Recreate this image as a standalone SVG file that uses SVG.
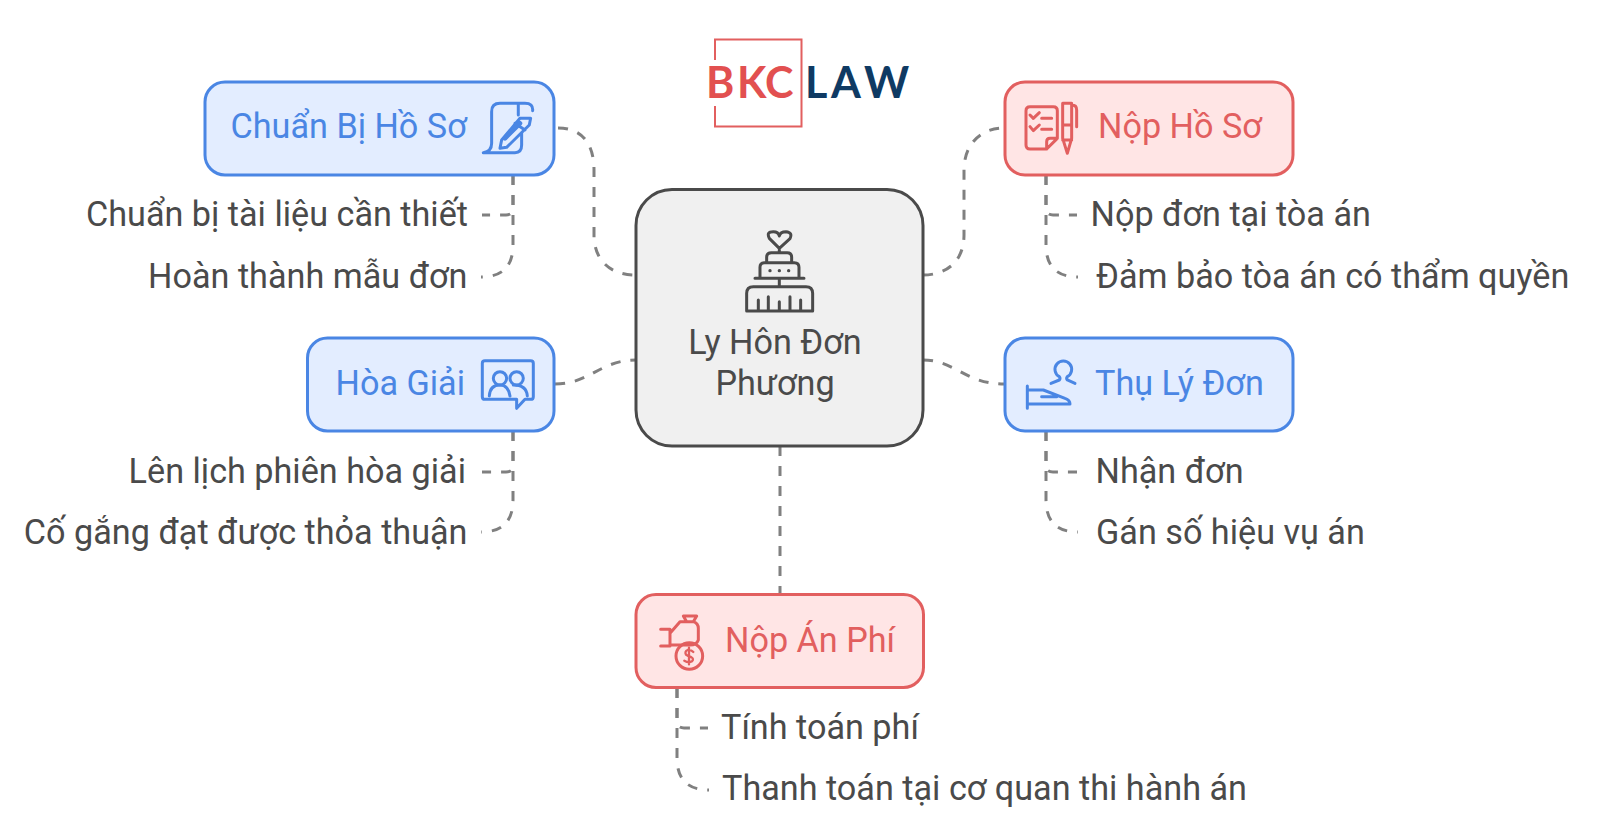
<svg xmlns="http://www.w3.org/2000/svg" width="1600" height="831" viewBox="0 0 1600 831">
<style>
text{font-family:Roboto,"Noto Sans",sans-serif;font-size:34.200px}
.b{fill:#e3edff;stroke:#4a86e4;stroke-width:3}
.r{fill:#ffe5e5;stroke:#e25f5f;stroke-width:3}
.c{fill:#f0f0f0;stroke:#4a4a4a;stroke-width:3}
.tb{fill:#4a86e4}.tr{fill:#e25f5f}.td{fill:#4a4a4a}
.e{text-anchor:end}.m{text-anchor:middle}
.con{fill:none;stroke:#808080;stroke-width:3;stroke-dasharray:10 10}
.i{fill:none;stroke-width:9;stroke-linecap:round;stroke-linejoin:round}
.ib{stroke:#4a86e4}.ir{stroke:#e25f5f}.id{stroke:#4a4a4a}
.lg{font-family:Lato,sans-serif;font-size:43px;font-weight:700}
</style>
<g id="logo">
<path d="M715 60V39.500H801.500V126.500H715V106" fill="none" stroke="#e25f5f" stroke-width="2"/>
<text class="lg" x="706 737 765" y="98" fill="#e25050">BKC</text>
<text class="lg" x="805 831 864" y="98" fill="#0f3a63">LAW</text>
</g>
<g id="connectors" class="con">
<path d="M558 128C583 128 594 145 594 170V235C594 260 610 275 635 275"/>
<path d="M923 275C948 275 964 260 964 235V170C964 145 980 128 1004 128"/>
<path d="M555 384C590 384 600 360 636 360"/>
<path d="M923 360C955 360 965 384 1004 384"/>
<path d="M780 446V594"/>
<path d="M513 175V208Q513 215 506 215H482"/>
<path d="M513 175V245Q513 277 481 277"/>
<path d="M513 431V465Q513 472 506 472H482"/>
<path d="M513 431V500Q513 532 481 532"/>
<path d="M1046 175V208Q1046 215 1053 215H1077"/>
<path d="M1046 175V245Q1046 277 1078 277"/>
<path d="M1046 431V465Q1046 472 1053 472H1077"/>
<path d="M1046 431V500Q1046 532 1078 532"/>
<path d="M677 688V721Q677 728 684 728H708"/>
<path d="M677 688V758Q677 790 709 790"/>
</g>
<g id="center">
<rect class="c" x="636" y="189.500" width="287" height="256.500" rx="36"/>
<g class="i id" transform="translate(630 180) scale(.3333)">
<path d="M448 205L418 175Q408 155 430 155Q445 155 448 168Q451 155 468 155Q489 157 480 176ZM448 205V218M410 248V232Q410 218 424 218H472Q485 218 485 232V248M390 295V262Q390 248 404 248H493Q507 248 507 262V295M375 295H522M448 295V320M350 393V340Q350 320 370 320H528Q548 320 548 340V393ZM385 393V360M415 393V350M448 393V365M480 393V350M512 393V360"/>
<path d="M420 272h.1M448 272h.1M476 272h.1" stroke-width="10"/>
</g>
<text class="td m" x="775" y="354">Ly Hôn Đơn</text>
<text class="td m" x="775" y="395">Phương</text>
</g>
<g id="chuan-bi">
<rect class="b" x="205" y="82" width="349" height="93" rx="20"/>
<text class="tb" x="230.500" y="138">Chuẩn Bị Hồ Sơ</text>
<g class="i ib" transform="translate(190 70) scale(.3333)">
<path d="M880 248H975Q995 248 995 225V190M880 248Q905 245 905 220V125Q905 100 930 100H1005Q1030 100 1028 122M985 100V135"/>
<path d="M990 145L1022 145 1018 165 950 232 930 235 935 210ZM975 160L1005 180"/>
<path d="M945 205L990 160" stroke-width="14"/>
</g>
</g>
<g id="nop-ho-so">
<rect class="r" x="1005" y="82" width="288" height="93" rx="20"/>
<text class="tr" x="1098" y="138">Nộp Hồ Sơ</text>
<g class="i ir" transform="translate(1000 70) scale(.3333)">
<path d="M90 110H160Q172 110 172 122V205L140 237H90Q78 237 78 225V122Q78 110 90 110ZM172 205H150Q140 205 140 215V237M90 135L100 145 118 128M125 145H155M90 170L100 182 118 165M125 178H155"/>
<path d="M188 100H215V205L202 250 188 205ZM188 165H215M188 210H215M215 105Q230 105 230 120V170"/>
</g>
</g>
<g id="hoa-giai">
<rect class="b" x="307.500" y="338" width="246.500" height="93" rx="20"/>
<text class="tb" x="335.500" y="395">Hòa Giải</text>
<g class="i ib" transform="translate(300 330) scale(.3333)">
<path d="M555 92H692Q700 92 700 100V200Q700 208 692 208H675L650 235V208H555Q547 208 547 200V100Q547 92 555 92Z"/>
<circle cx="600" cy="145" r="20"/><circle cx="650" cy="145" r="20"/>
<path d="M568 198Q570 165 600 165Q625 165 630 198M640 165Q680 165 682 198"/>
</g>
</g>
<g id="thu-ly">
<rect class="b" x="1005" y="338" width="288" height="93" rx="20"/>
<text class="tb" x="1095" y="395">Thụ Lý Đơn</text>
<g class="i ib" transform="translate(1000 330) scale(.3333)">
<path d="M153 160L178 150Q182 145 178 140A25 25 0 1 1 202 140Q198 145 202 150L225 160"/>
<path d="M82 168V235M82 180H130L195 205Q210 210 210 222H82M125 200H170"/>
</g>
</g>
<g id="nop-an-phi">
<rect class="r" x="636" y="594.500" width="287.500" height="93" rx="20"/>
<text class="tr" x="725" y="652">Nộp Án Phí</text>
<g class="i ir" transform="translate(630 590) scale(.3333)">
<path d="M160 78H200L190 95H170ZM92 118H120V168H92M120 130L150 95H190Q205 100 205 115V150Q200 165 180 165H120"/>
<circle cx="178" cy="198" r="40"/>
<path d="M190 186Q183 178 173 180Q163 184 168 194Q173 199 183 201Q193 206 186 214Q176 220 163 212M177 173V223" stroke-width="7"/>
</g>
</g>
<g id="items">
<text class="td e" x="468" y="226">Chuẩn bị tài liệu cần thiết</text>
<text class="td e" x="467.500" y="288">Hoàn thành mẫu đơn</text>
<text class="td e" x="466" y="483">Lên lịch phiên hòa giải</text>
<text class="td e" x="467.500" y="544">Cố gắng đạt được thỏa thuận</text>
<text class="td" x="1090.500" y="226">Nộp đơn tại tòa án</text>
<text class="td" x="1096" y="288">Đảm bảo tòa án có thẩm quyền</text>
<text class="td" x="1095.500" y="483">Nhận đơn</text>
<text class="td" x="1096" y="544">Gán số hiệu vụ án</text>
<text class="td" x="721" y="739">Tính toán phí</text>
<text class="td" x="722" y="800">Thanh toán tại cơ quan thi hành án</text>
</g>
</svg>
